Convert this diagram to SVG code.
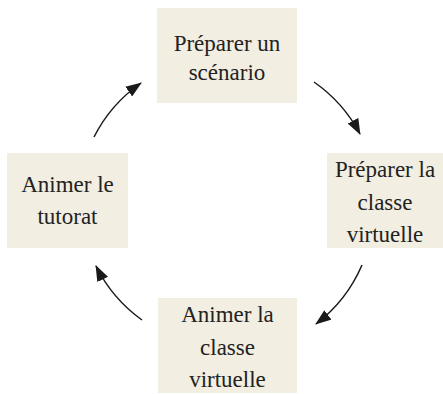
<svg xmlns="http://www.w3.org/2000/svg" width="443" height="394" viewBox="0 0 443 394">
<style>
.box{fill:#f2eee1}
.t{font-family:"Liberation Serif","DejaVu Serif",serif;font-size:23px;fill:#222;text-anchor:middle}
.c{fill:none;stroke:#1a1a1a;stroke-width:1.5}
</style>
<defs>
<marker id="ah" markerUnits="userSpaceOnUse" viewBox="0 0 16 12" markerWidth="16" markerHeight="12" refX="15" refY="6" orient="auto">
<path d="M0,0 L16,6 L0,12 z" fill="#1a1a1a"/>
</marker>
</defs>
<rect width="443" height="394" fill="#fff"/>
<g id="n1">
<rect class="box" x="157" y="8" width="140" height="95"/>
<text class="t" x="227" y="51">Préparer un</text>
<text class="t" x="227" y="80">scénario</text>
</g>
<g id="n2">
<rect class="box" x="327" y="153" width="116" height="95"/>
<text class="t" x="385" y="177">Préparer la</text>
<text class="t" x="385" y="210">classe</text>
<text class="t" x="385" y="242">virtuelle</text>
</g>
<g id="n3">
<rect class="box" x="158" y="298" width="139" height="95"/>
<text class="t" x="227.5" y="322">Animer la</text>
<text class="t" x="227.5" y="355">classe</text>
<text class="t" x="227.5" y="387">virtuelle</text>
</g>
<g id="n4">
<rect class="box" x="7" y="153" width="121" height="95"/>
<text class="t" x="67.5" y="192">Animer le</text>
<text class="t" x="67.5" y="224">tutorat</text>
</g>
<g id="connectors">
<path class="c" d="M94,137 A147,147 0 0 1 141,83" marker-end="url(#ah)"/>
<path class="c" d="M314,82 A147,147 0 0 1 360,134" marker-end="url(#ah)"/>
<path class="c" d="M362,265 A147,147 0 0 1 316,324" marker-end="url(#ah)"/>
<path class="c" d="M142,320 A147,147 0 0 1 96,266" marker-end="url(#ah)"/>
</g>
</svg>
